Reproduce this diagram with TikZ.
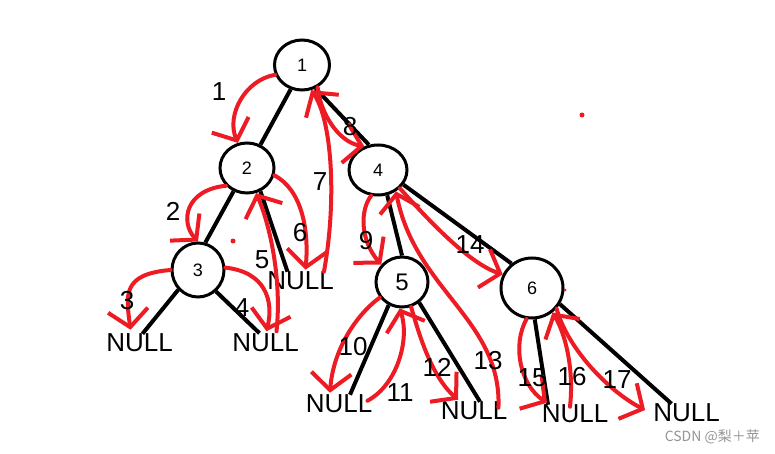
\documentclass[tikz,border=0pt]{standalone}
\usepackage{fontspec}
\setmainfont{Liberation Sans}
\newfontfamily\cjkfont{Noto Sans CJK SC}
\usetikzlibrary{arrows.meta,shapes.geometric}
\definecolor{pred}{HTML}{ED1C24}
\begin{document}
\begin{tikzpicture}[x=1pt,y=-1pt,
  vert/.style={ellipse,draw=black,line width=3pt,inner sep=0pt,font=\fontsize{18}{18}\selectfont},
  nulltxt/.style={inner sep=0pt,font=\fontsize{26}{26}\selectfont},
  numlab/.style={inner sep=0pt,font=\fontsize{26}{26}\selectfont},
  tedge/.style={draw=black,line width=4pt},
  redarr/.style={draw=pred,line width=4pt,line cap=round,line join=round,
    -{Straight Barb[length=17pt,width=40pt]}},
  reddot/.style={fill=pred}]
\fill[white] (0,0) rectangle (775,454);
\useasboundingbox (0,0) rectangle (775,454);

% vertices
\node[vert,minimum width=55pt,minimum height=50pt] (n1) at (302,65) {1};
\node[vert,minimum width=54pt,minimum height=50pt] (n2) at (247,168) {2};
\node[vert,minimum width=58pt,minimum height=50pt] (n4) at (378,170) {4};
\node[vert,minimum width=52pt,minimum height=54pt] (n3) at (198,270) {3};
\node[vert,minimum width=52pt,minimum height=50pt,font=\fontsize{24}{24}\selectfont] (n5) at (402,282) {5};
\node[vert,minimum width=62pt,minimum height=60pt] (n6) at (532,288) {6};

% NULL leaves
\node[nulltxt] (nl3a) at (139.5,343) {NULL};
\node[nulltxt] (nl3b) at (265.5,342.5) {NULL};
\node[nulltxt] (nl2) at (300.5,281) {NULL};
\node[nulltxt] (nl5a) at (339,404) {NULL};
\node[nulltxt] (nl5b) at (474,411) {NULL};
\node[nulltxt] (nl6a) at (575,414) {NULL};
\node[nulltxt] (nl6b) at (686.5,413) {NULL};

% tree edges
\draw[tedge] (n1.245) -- (n2.60);
\draw[tedge] (n1.300) -- (n4.110);
\draw[tedge] (n2.240) -- (n3.75);
\draw[tedge] (n2.300) -- ([xshift=-13pt]nl2.north);
\draw[tedge] (n3.225) -- ([xshift=3pt]nl3a.north);
\draw[tedge] (n3.310) -- ([xshift=-6pt]nl3b.north);
\draw[tedge] (n4.290) -- (n5.north);
\draw[tedge] (n4.330) -- (n6.130);
\draw[tedge] (n5.240) -- ([xshift=11pt]nl5a.north);
\draw[tedge] (n5.310) -- ([xshift=6pt]nl5b.north);
\draw[tedge] (n6.275) -- ([xshift=-27pt]nl6a.north);
\draw[tedge] (n6.330) -- ([xshift=-15pt]nl6b.north);

% traversal arrows
\draw[redarr] (n1.200) .. controls (245,80) and (226,115) .. (n2.110);
\draw[redarr] (n2.220) .. controls (185,190) and (180,222) .. (n3.north);
\draw[redarr] (n3.180) .. controls (122,274) and (126,295) .. ([xshift=-9pt,yshift=4pt]nl3a.north);
\draw[redarr] (n3.5) .. controls (265,272) and (274,300) .. ([xshift=1pt,yshift=2pt]nl3b.north);
\draw[redarr] ([xshift=11pt,yshift=2pt]nl3b.north) .. controls (282,280) and (270,225) .. (n2.290);
\draw[redarr] (n2.345) .. controls (302,190) and (309,230) .. ([xshift=5pt,yshift=2pt]nl2.north);
\draw[redarr] ([xshift=-10pt]nl2.north east) .. controls (337,200) and (332,120) .. (n1.290);
\draw[redarr] (n1.305) .. controls (320,112) and (338,142) .. (n4.120);
\draw[redarr] (n4.255) .. controls (360,210) and (360,240) .. (n5.140);
\draw[redarr] (n5.215) .. controls (356,315) and (333,350) .. ([xshift=-9pt,yshift=2pt]nl5a.north);
\draw[redarr] ([xshift=-5pt,yshift=-6pt]nl5a.north east) .. controls (397,385) and (410,340) .. (n5.265);
\draw[redarr] (n5.290) .. controls (418,330) and (430,375) .. ([xshift=-16pt,yshift=2pt]nl5b.north);
\draw[redarr] ([xshift=-9pt,yshift=-6pt]nl5b.north east) .. controls (502,320) and (415,290) .. (n4.310);
\draw[redarr] (n4.320) .. controls (430,222) and (470,264) .. (n6.155);
\draw[redarr] (n6.260) .. controls (512,345) and (520,385) .. ([xshift=-28pt,yshift=2pt]nl6a.north);
\draw[redarr] ([xshift=-5pt,yshift=-2pt]nl6a.north) .. controls (574,370) and (566,335) .. (n6.310);
\draw[redarr] (n6.320) .. controls (568,350) and (610,392) .. ([xshift=-8pt,yshift=3pt]nl6b.west);

% step numbers
\node[numlab] (s1) at (219,92) {1};
\node[numlab] (s2) at (173,211) {2};
\node[numlab] (s3) at (127,301) {3};
\node[numlab] (s4) at (242,308) {4};
\node[numlab] (s5) at (262,260) {5};
\node[numlab] (s6) at (300,233) {6};
\node[numlab] (s7) at (320,182) {7};
\node[numlab] (s8) at (350,127) {8};
\node[numlab] (s9) at (366,241) {9};
\node[numlab] (s10) at (353,347) {10};
\node[numlab] (s11) at (400,393) {11};
\node[numlab] (s12) at (437,367) {12};
\node[numlab] (s13) at (488,361) {13};
\node[numlab] (s14) at (470,245) {14};
\node[numlab] (s15) at (532,378) {15};
\node[numlab] (s16) at (572,377) {16};
\node[numlab] (s17) at (617,380) {17};

% stray marks
\fill[reddot] (582,115) circle (2.5pt);
\fill[reddot] (233,241) circle (2.5pt);
\fill[reddot] (565,290) circle (1.5pt);

% watermark
\node[inner sep=0pt,anchor=east,text=black!42,font=\cjkfont\fontsize{14}{14}\selectfont] (wm) at (760,437) {CSDN @梨＋苹};
\end{tikzpicture}
\end{document}
